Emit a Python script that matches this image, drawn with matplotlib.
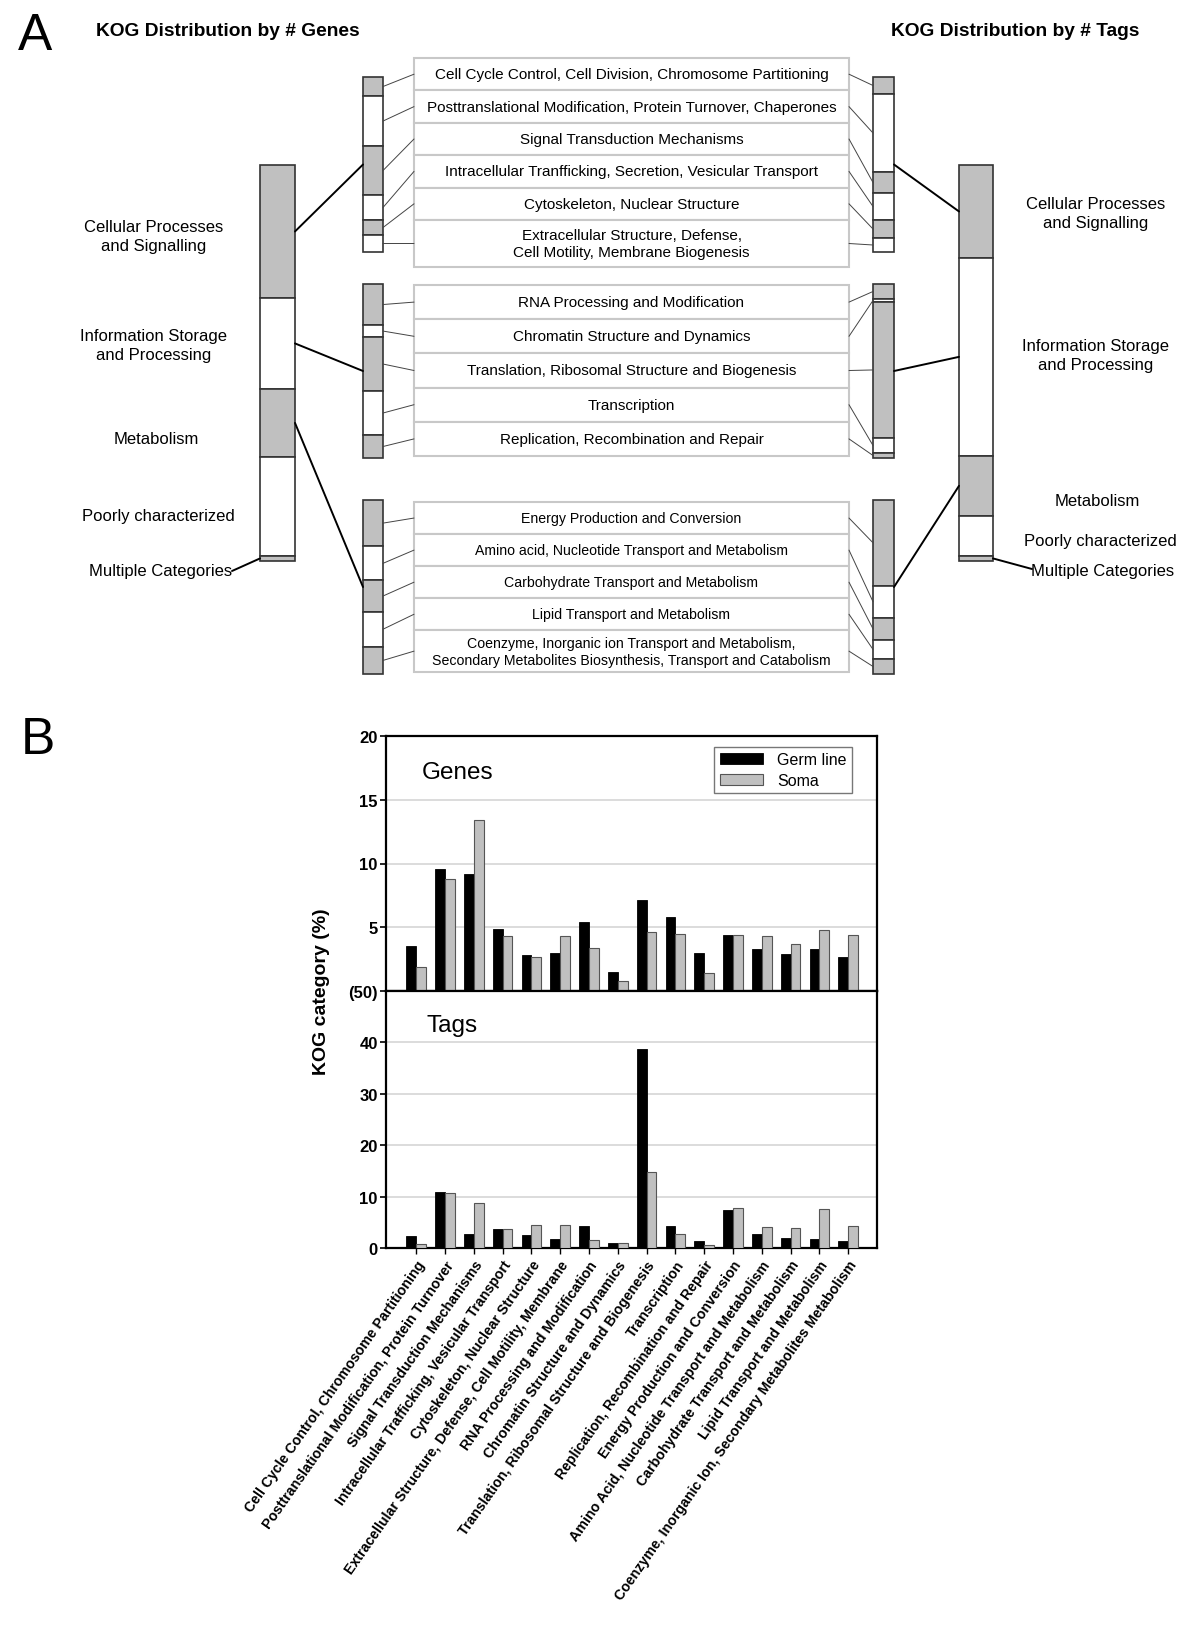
import numpy as np
import matplotlib
matplotlib.use('Agg')
import matplotlib.pyplot as plt
from matplotlib.patches import ConnectionPatch

plt.rcParams['font.family'] = ['Liberation Sans', 'DejaVu Sans']

W, H = 1200, 1649
GRAY = '#c0c0c0'

# ---------------- panel A data (percent) ----------------
main_labels = ['Cellular Processes\nand Signalling', 'Information Storage\nand Processing',
               'Metabolism', 'Poorly characterized', 'Multiple Categories']
main_genes = [33.6, 23.0, 17.2, 25.0, 1.3]
main_tags = [23.5, 50.0, 15.2, 10.1, 1.3]

cell_labels = ['Cell Cycle Control, Cell Division, Chromosome Partitioning',
               'Posttranslational Modification, Protein Turnover, Chaperones',
               'Signal Transduction Mechanisms',
               'Intracellular Tranfficking, Secretion, Vesicular Transport',
               'Cytoskeleton, Nuclear Structure',
               'Extracellular Structure, Defense,\nCell Motility, Membrane Biogenesis']
cell_genes = [10.9, 28.6, 28.0, 14.3, 8.6, 9.7]
cell_tags = [9.7, 44.6, 12.0, 15.4, 10.3, 8.0]

info_labels = ['RNA Processing and Modification',
               'Chromatin Structure and Dynamics',
               'Translation, Ribosomal Structure and Biogenesis',
               'Transcription',
               'Replication, Recombination and Repair']
info_genes = [23.6, 6.9, 31.0, 25.3, 13.2]
info_tags = [8.6, 1.7, 78.2, 8.6, 2.9]

met_labels = ['Energy Production and Conversion',
              'Amino acid, Nucleotide Transport and Metabolism',
              'Carbohydrate Transport and Metabolism',
              'Lipid Transport and Metabolism',
              'Coenzyme, Inorganic ion Transport and Metabolism,\nSecondary Metabolites Biosynthesis, Transport and Catabolism']
met_genes = [26.4, 19.5, 17.8, 20.1, 15.5]
met_tags = [48.9, 18.4, 12.6, 10.9, 8.6]

# ---------------- panel B data (percent) ----------------
kog_cats = ['Cell Cycle Control, Chromosome Partitioning',
            'Posttranslational Modification, Protein Turnover',
            'Signal Transduction Mechanisms',
            'Intracellular Trafficking, Vesicular Transport',
            'Cytoskeleton, Nuclear Structure',
            'Extracellular Structure, Defense, Cell Motility, Membrane',
            'RNA Processing and Modification',
            'Chromatin Structure and Dynamics',
            'Translation, Ribosomal Structure and Biogenesis',
            'Transcription',
            'Replication, Recombination and Repair',
            'Energy Production and Conversion',
            'Amino Acid, Nucleotide Transport and Metabolism',
            'Carbohydrate Transport and Metabolism',
            'Lipid Transport and Metabolism',
            'Coenzyme, Inorganic Ion, Secondary Metabolites Metabolism']
genes_germ = [3.5, 9.6, 9.2, 4.9, 2.85, 3.0, 5.4, 1.5, 7.1, 5.8, 3.0, 4.4, 3.3, 2.9, 3.3, 2.7]
genes_soma = [1.9, 8.8, 13.45, 4.35, 2.7, 4.3, 3.35, 0.8, 4.65, 4.5, 1.45, 4.4, 4.3, 3.7, 4.75, 4.4]
tags_germ = [2.3, 10.8, 2.7, 3.7, 2.5, 1.8, 4.3, 1.0, 38.8, 4.2, 1.4, 7.4, 2.7, 1.9, 1.7, 1.4]
tags_soma = [0.85, 10.7, 8.8, 3.6, 4.4, 4.5, 1.5, 0.9, 14.8, 2.8, 0.5, 7.7, 4.0, 3.9, 7.5, 4.3]

fig = plt.figure(figsize=(W / 100, H / 100), dpi=100)

ax0 = fig.add_axes([0, 0, 1, 1])
ax0.set_xlim(0, W)
ax0.set_ylim(H, 0)
ax0.axis('off')


def px_axes(x0, y0, x1, y1):
    return fig.add_axes([x0 / W, 1 - y1 / H, (x1 - x0) / W, (y1 - y0) / H])


def stack_col(x0, y0, x1, y1, vals):
    ax = px_axes(x0, y0, x1, y1)
    vals = np.array(vals, float)
    bottoms = np.concatenate([[0], np.cumsum(vals)[:-1]])
    colors = [GRAY if i % 2 == 0 else 'white' for i in range(len(vals))]
    ax.bar(0.5, vals, bottom=bottoms, width=1, color=colors, edgecolor='#333333',
           linewidth=1.2, clip_on=False)
    ax.set_xlim(0, 1)
    ax.set_ylim(vals.sum(), 0)
    ax.axis('off')
    return ax, bottoms + vals / 2, vals.sum()


def box_group(y0, y1, labels, heights, fs):
    ax = px_axes(414, y0, 849, y1)
    hs = np.array(heights, float)
    tops = np.concatenate([[0], np.cumsum(hs)[:-1]])
    ax.barh(tops, 1, height=hs, left=0, align='edge', color='white',
            edgecolor='#c8c8c8', linewidth=1.5, clip_on=False)
    ax.set_xlim(0, 1)
    ax.set_ylim(hs.sum(), 0)
    for t, h, lab in zip(tops, hs, labels):
        ax.text(0.5, t + h / 2, lab, ha='center', va='center', fontsize=fs, linespacing=1.3)
    ax.axis('off')
    return ax, tops + hs / 2


def connect(axA, xyA, axB, xyB, lw=0.7, color='#444444'):
    fig.add_artist(ConnectionPatch(xyA=xyA, coordsA=axA.transData, xyB=xyB,
                                   coordsB=axB.transData, color=color, lw=lw))


# big columns
bigL, bigL_c, _ = stack_col(260, 166, 295, 562, main_genes)
bigR, bigR_c, _ = stack_col(959, 166, 993, 562, main_tags)

groups = [
    (78, 253, 59, 268, cell_labels, cell_genes, cell_tags, [1, 1, 1, 1, 1, 1.45], 11),
    (285, 459, 286, 457, info_labels, info_genes, info_tags, [1, 1, 1, 1, 1], 11),
    (501, 675, 503, 673, met_labels, met_genes, met_tags, [1, 1, 1, 1, 1.3], 10.2),
]
for k, (cy0, cy1, by0, by1, labs, gv, tv, hs, fs) in enumerate(groups):
    colL, cL, totL = stack_col(363, cy0, 383, cy1, gv)
    colR, cR, totR = stack_col(873, cy0, 894, cy1, tv)
    bx, bc = box_group(by0, by1, labs, hs, fs)
    for i in range(len(labs)):
        connect(colL, (1, cL[i]), bx, (0, bc[i]))
        connect(bx, (1, bc[i]), colR, (0, cR[i]))
    connect(bigL, (1, bigL_c[k]), colL, (0, totL / 2), lw=1.4, color='black')
    connect(colR, (1, totR / 2), bigR, (0, bigR_c[k]), lw=1.4, color='black')

# multiple categories leaders
connect(ax0, (232, 572), bigL, (0, bigL_c[4]), lw=1.4, color='black')
connect(bigR, (1, bigR_c[4]), ax0, (1032, 570), lw=1.4, color='black')

# panel A labels
left_pos = [(154, 237), (154, 346), (156, 439), (158, 517), (161, 572)]
right_pos = [(1096, 214), (1096, 356), (1097, 501), (1100, 542), (1103, 572)]
for lab, (x, y) in zip(main_labels, left_pos):
    ax0.text(x, y, lab, ha='center', va='center', fontsize=12, linespacing=1.3)
for lab, (x, y) in zip(main_labels, right_pos):
    ax0.text(x, y, lab, ha='center', va='center', fontsize=12, linespacing=1.3)

ax0.text(18, 37, 'A', fontsize=37, ha='left', va='center')
ax0.text(21, 741, 'B', fontsize=37, ha='left', va='center')
ax0.text(96, 32, 'KOG Distribution by # Genes', fontsize=13.8, fontweight='bold', va='center')
ax0.text(891, 32, 'KOG Distribution by # Tags', fontsize=13.8, fontweight='bold', va='center')

# ---------------- panel B ----------------
axG = px_axes(386, 737, 877, 992)
axT = px_axes(386, 992, 877, 1249)
x = np.arange(len(kog_cats))
w = 0.34
for ax, germ, soma in [(axG, genes_germ, genes_soma), (axT, tags_germ, tags_soma)]:
    ax.bar(x - w / 2, germ, w, color='black', edgecolor='black', linewidth=0.6, label='Germ line', zorder=3)
    ax.bar(x + w / 2, soma, w, color=GRAY, edgecolor='#555555', linewidth=0.8, label='Soma', zorder=3)
    ax.set_xlim(-1.05, 16)
    ax.grid(axis='y', color='#d6d6d6', linewidth=1.2)
    ax.set_axisbelow(True)
    for s in ax.spines.values():
        s.set_linewidth(1.6)
    ax.tick_params(axis='y', direction='out', length=4, width=1.2, pad=2)

axG.set_ylim(0, 20)
axG.set_yticks([5, 10, 15, 20])
axG.set_yticklabels(['5', '10', '15', '20'], fontweight='bold', fontsize=12)
axG.tick_params(axis='x', bottom=False, labelbottom=False)
axG.text(0.072, 0.86, 'Genes', transform=axG.transAxes, fontsize=17.5, va='center')
axG.legend(loc='upper right', bbox_to_anchor=(0.966, 0.99), fontsize=11.5, frameon=True,
           fancybox=False, edgecolor='#555555', handlelength=2.7, handleheight=0.7,
           borderpad=0.35, labelspacing=0.35, handletextpad=0.9)

axT.set_ylim(0, 50)
axT.set_yticks([0, 10, 20, 30, 40, 50])
axT.set_yticklabels(['0', '10', '20', '30', '40', '(50)'], fontweight='bold', fontsize=12)
axT.set_xticks(x)
axT.set_xticklabels(kog_cats, rotation=55, ha='right', va='top', rotation_mode='anchor',
                    fontweight='bold', fontsize=10.2)
axT.tick_params(axis='x', direction='out', length=4, width=1.0, pad=3)
axT.text(0.082, 0.868, 'Tags', transform=axT.transAxes, fontsize=17.5, va='center')

ax0.text(321, 992, 'KOG category (%)', rotation=90, ha='center', va='center',
         fontsize=14, fontweight='bold')

fig.savefig('out.png', dpi=100)
